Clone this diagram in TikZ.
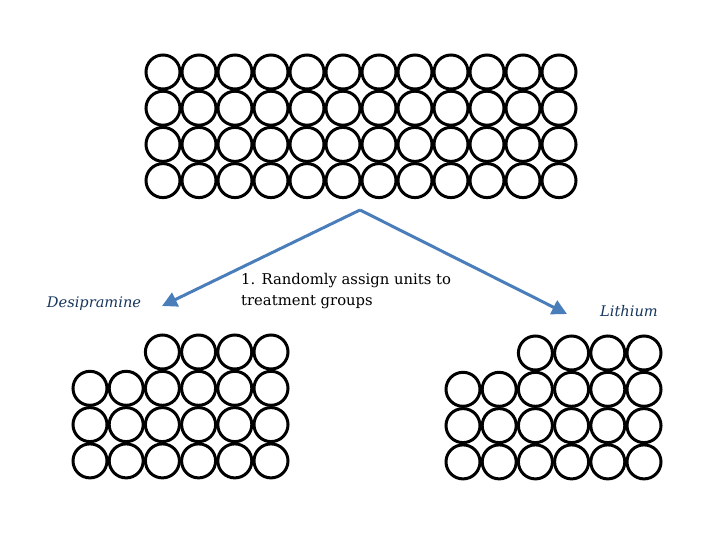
\documentclass[tikz,border=0pt]{standalone}
\usepackage{fontspec}
\setmainfont{DejaVu Serif}
\usetikzlibrary{arrows.meta}
\definecolor{arrowblue}{RGB}{74,126,187}
\definecolor{labelblue}{RGB}{23,54,93}
\begin{document}
\begin{tikzpicture}[x=1pt,y=-1pt,
  unit/.style={circle,draw=black,line width=3pt,minimum size=34pt,inner sep=0pt},
  connector/.style={draw=arrowblue,line width=3pt,-{Triangle[length=15pt,width=15pt]}},
  lbl/.style={font=\itshape\fontsize{14.6}{17}\selectfont,text=labelblue,inner sep=0pt},
  note/.style={font=\fontsize{14.8}{21}\selectfont,align=left,inner sep=0pt,anchor=north west}]
\useasboundingbox (0,0) rectangle (720,540);
% top population 12 x 4
\foreach \c in {0,...,11}{
  \foreach \r in {0,...,3}{
    \node[unit] (t-\c-\r) at ({163+36*\c},{72+36.2*\r}) {};
  }
}
% left group
\foreach \c in {2,...,5}{
  \node[unit] (l-\c-0) at ({90+36.2*\c},352) {};
}
\foreach \c in {0,...,5}{
  \foreach \r in {1,2,3}{
    \node[unit] (l-\c-\r) at ({90+36.2*\c},{352+36.3*\r}) {};
  }
}
% right group
\foreach \c in {2,...,5}{
  \node[unit] (r-\c-0) at ({463+36.2*\c},353) {};
}
\foreach \c in {0,...,5}{
  \foreach \r in {1,2,3}{
    \node[unit] (r-\c-\r) at ({463+36.2*\c},{353+36.3*\r}) {};
  }
}
% arrows
\coordinate (apex) at (360,210);
\coordinate (lend) at (162,306);
\coordinate (rend) at (567,314);
\draw[connector] (apex) -- (lend);
\draw[connector] (apex) -- (rend);
% labels
\node[lbl] (desi) at (94,303.5) {Desipramine};
\node[lbl] (lith) at (629,311) {Lithium};
\node[note] (step1) at (241,273.5) {1. Randomly assign units to\\treatment groups};
\end{tikzpicture}
\end{document}
